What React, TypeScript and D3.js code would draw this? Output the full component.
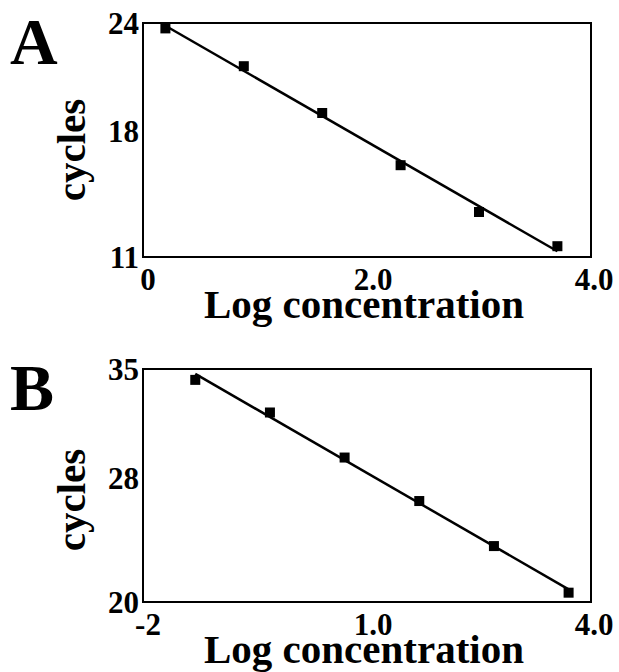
import React, { useEffect, useRef } from 'react';
import * as d3 from 'd3';

// panel A
const logConcA = [0.2, 0.9, 1.6, 2.3, 3.0, 3.7];
const cyclesA = [23.7, 21.6, 19.0, 16.1, 13.5, 11.6];
const xTicksA = [0, 2, 4];
const xTickLabelsA = ['0', '2.0', '4.0'];
const yTicksA = [11, 18, 24];

// panel B
const logConcB = [-1.3, -0.3, 0.7, 1.7, 2.7, 3.7];
const cyclesB = [34.3, 32.2, 29.3, 26.5, 23.6, 20.6];
const xTicksB = [-2, 1, 4];
const xTickLabelsB = ['-2', '1.0', '4.0'];
const yTicksB = [20, 28, 35];

const FONT = '"Liberation Serif", "Times New Roman", serif';

const App = () => {
  const svgRef = useRef<SVGSVGElement>(null);

  useEffect(() => {
    const svg = d3.select(svgRef.current);
    svg.selectAll('*').remove();

    const left = 143;
    const right = 591;

    const drawPanel = (opts: {
      letter: string;
      xs: number[];
      ys: number[];
      xDomain: [number, number];
      yDomain: [number, number];
      top: number;
      bottom: number;
      xTicks: number[];
      xLabels: string[];
      yTicks: number[];
      letterY: number;
      cyclesY: number;
    }) => {
      const x = d3.scaleLinear().domain(opts.xDomain).range([left, right]);
      const y = d3.scaleLinear().domain(opts.yDomain).range([opts.bottom, opts.top]);
      const g = svg.append('g');

      // frame
      g.append('rect')
        .attr('x', left)
        .attr('y', opts.top)
        .attr('width', right - left)
        .attr('height', opts.bottom - opts.top)
        .attr('fill', 'none')
        .attr('stroke', '#000')
        .attr('stroke-width', 2);

      // least squares fit
      const mx = d3.mean(opts.xs) as number;
      const my = d3.mean(opts.ys) as number;
      const sxy = d3.sum(opts.xs, (v, i) => (v - mx) * (opts.ys[i] - my));
      const sxx = d3.sum(opts.xs, (v) => (v - mx) * (v - mx));
      const slope = sxy / sxx;
      const fit = (v: number) => my + slope * (v - mx);
      const ext = d3.extent(opts.xs) as [number, number];

      g.append('path')
        .attr('d', d3.line()([[x(ext[0]), y(fit(ext[0]))], [x(ext[1]), y(fit(ext[1]))]]))
        .attr('stroke', '#000')
        .attr('stroke-width', 2.5)
        .attr('fill', 'none');

      // markers
      g.selectAll('rect.pt')
        .data(opts.xs)
        .enter()
        .append('rect')
        .attr('class', 'pt')
        .attr('x', (d) => x(d) - 5)
        .attr('y', (d, i) => y(opts.ys[i]) - 5)
        .attr('width', 10)
        .attr('height', 10)
        .attr('fill', '#000');

      // y tick labels
      g.selectAll('text.yt')
        .data(opts.yTicks)
        .enter()
        .append('text')
        .attr('class', 'yt')
        .attr('x', left - 4)
        .attr('y', (d) => y(d) + 11)
        .attr('text-anchor', 'end')
        .attr('font-family', FONT)
        .attr('font-weight', 'bold')
        .attr('font-size', 31)
        .text((d) => d);

      // x tick labels
      g.selectAll('text.xt')
        .data(opts.xTicks)
        .enter()
        .append('text')
        .attr('class', 'xt')
        .attr('x', (d, i) => x(d) + (i === 0 ? 5 : i === 1 ? 6 : 3))
        .attr('y', opts.bottom + 33)
        .attr('text-anchor', 'middle')
        .attr('font-family', FONT)
        .attr('font-weight', 'bold')
        .attr('font-size', 31)
        .text((d, i) => opts.xLabels[i]);

      // axis titles
      g.append('text')
        .attr('x', 364)
        .attr('y', opts.bottom + 61)
        .attr('text-anchor', 'middle')
        .attr('font-family', FONT)
        .attr('font-weight', 'bold')
        .attr('font-size', 41)
        .text('Log concentration');

      g.append('text')
        .attr('transform', `translate(85,${opts.cyclesY}) rotate(-90)`)
        .attr('text-anchor', 'middle')
        .attr('font-family', FONT)
        .attr('font-weight', 'bold')
        .attr('font-size', 41)
        .text('cycles');

      // panel letter
      g.append('text')
        .attr('x', 10)
        .attr('y', opts.letterY)
        .attr('font-family', FONT)
        .attr('font-weight', 'bold')
        .attr('font-size', 66)
        .text(opts.letter);
    };

    drawPanel({
      letter: 'A',
      xs: logConcA,
      ys: cyclesA,
      xDomain: [0, 4],
      yDomain: [11, 24],
      top: 23,
      bottom: 257,
      xTicks: xTicksA,
      xLabels: xTickLabelsA,
      yTicks: yTicksA,
      letterY: 64,
      cyclesY: 150,
    });

    drawPanel({
      letter: 'B',
      xs: logConcB,
      ys: cyclesB,
      xDomain: [-2, 4],
      yDomain: [20, 35],
      top: 369,
      bottom: 602,
      xTicks: xTicksB,
      xLabels: xTickLabelsB,
      yTicks: yTicksB,
      letterY: 410,
      cyclesY: 500,
    });
  }, []);

  return (
    <div style={{ position: 'absolute', left: 0, top: 0 }}>
      <svg ref={svgRef} width={619} height={672} style={{ display: 'block', background: '#fff' }}></svg>
    </div>
  );
};

export default App;
